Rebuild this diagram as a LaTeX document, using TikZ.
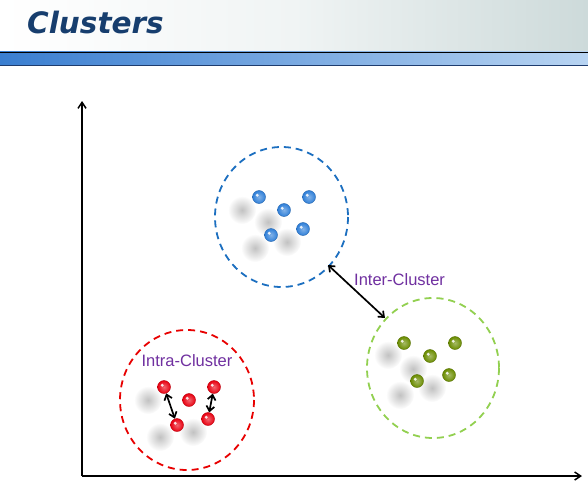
\documentclass[tikz,border=0pt]{standalone}
\usepackage{fontspec}
\setmainfont{Liberation Sans}
\newfontfamily\titlefont{DejaVu Sans}
\usetikzlibrary{arrows.meta,fadings,shadings}
\tikzfading[name=blurfade, inner color=transparent!0, outer color=transparent!100]
\definecolor{titleblue}{HTML}{173E6E}
\definecolor{labelpurple}{HTML}{7030A0}
\definecolor{cblue}{HTML}{1C6FC0}
\definecolor{cred}{HTML}{E80000}
\definecolor{cgreen}{HTML}{92D050}
\definecolor{ballblue}{HTML}{2F7FD8}
\definecolor{ballred}{HTML}{E80010}
\definecolor{ballgreen}{HTML}{6A8C00}
\definecolor{hdrright}{HTML}{CDDADA}
\definecolor{hdrmid}{HTML}{F0F4F4}
\definecolor{barleft}{HTML}{3A7ED0}
\definecolor{barright}{HTML}{B8D4F2}
\definecolor{barline}{HTML}{1E3C6E}
\tikzset{
  blur/.style={fill=black!24, path fading=blurfade},
  ball/.style={circle, minimum size=13pt, inner sep=0pt,
    inner color=#1!60!white, outer color=#1, draw=#1!80!black, line width=0.4pt,
    path picture={\fill[white, opacity=0.85] ([xshift=-1.8pt,yshift=1.8pt]path picture bounding box.center) circle (1.6pt);}},
  clus/.style={draw=#1, line width=1.8pt, dash pattern=on 7pt off 5pt},
  axis/.style={line width=1.5pt, -{Straight Barb[length=6pt,width=8pt]}},
  dbl/.style={line width=1.7pt, {Straight Barb[length=5pt,width=8pt]}-{Straight Barb[length=5pt,width=8pt]}},
  lbl/.style={text=labelpurple, font=\fontsize{16.5}{18}\selectfont, inner sep=0pt}
}
\begin{document}
\begin{tikzpicture}[x=1pt,y=-1pt]
\useasboundingbox (0,0) rectangle (588,495);
\fill[white] (0,0) rectangle (588,495);
% header
\shade[left color=white, right color=hdrright, middle color=hdrmid] (0,0) rectangle (588,52);
\shade[left color=barleft, right color=barright] (0,52) rectangle (588,65);
\draw[black, line width=1.2pt] (0,52.5) -- (588,52.5);
\draw[barline, line width=0.8pt] (0,65) -- (588,65);
\node[anchor=base west, inner sep=0pt, text=titleblue, font=\titlefont\bfseries\itshape\fontsize{29.5}{32}\selectfont] (title) at (27,34) {Clusters};
% axes
\coordinate (origin) at (82,476);
\coordinate (ytop) at (82,101);
\coordinate (xend) at (582,476);
\draw[axis] (origin) -- (ytop);
\draw[axis] (origin) -- (xend);
% blurs
\foreach \p in {(242,210),(268,222),(287,242),(255,248),
                (148,400),(160,437),(193,432),
                (388,355),(413,369),(400,395),(432,388)}
  \fill[blur] \p circle (14);
% clusters
\draw[clus=cblue] (281.5,217) ellipse (66.5 and 70);
\draw[clus=cred] (187,400) ellipse (67 and 70);
\draw[clus=cgreen] (433,368) ellipse (66 and 70);
% blue balls
\node[ball=ballblue] (b1) at (259,197) {};
\node[ball=ballblue] (b2) at (309,197) {};
\node[ball=ballblue] (b3) at (284,210) {};
\node[ball=ballblue] (b4) at (303,229) {};
\node[ball=ballblue] (b5) at (271,235) {};
% red balls
\node[ball=ballred] (r1) at (164,387) {};
\node[ball=ballred] (r2) at (189,400) {};
\node[ball=ballred] (r3) at (214,387) {};
\node[ball=ballred] (r4) at (177,425) {};
\node[ball=ballred] (r5) at (208,419) {};
% green balls
\node[ball=ballgreen] (g1) at (404,343) {};
\node[ball=ballgreen] (g2) at (455,343) {};
\node[ball=ballgreen] (g3) at (430,356) {};
\node[ball=ballgreen] (g4) at (449,375) {};
\node[ball=ballgreen] (g5) at (417,381) {};
% arrows
\draw[dbl] (r1) -- (r4);
\draw[dbl] (r3) -- (r5);
\coordinate (ia) at (328,265);
\coordinate (ib) at (385,318);
\draw[dbl] (ia) -- (ib);
% labels
\node[lbl, anchor=west] (inter) at (354,280) {Inter-Cluster};
\node[lbl] (intra) at (187,361) {Intra-Cluster};
\end{tikzpicture}
\end{document}
